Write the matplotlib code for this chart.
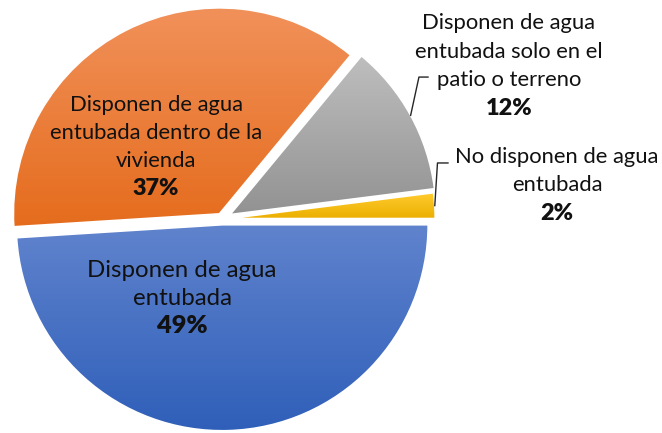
import numpy as np
import matplotlib
matplotlib.use("Agg")
import matplotlib.pyplot as plt
from matplotlib.colors import to_rgb
from matplotlib.transforms import offset_copy

plt.rcParams['font.family'] = ['Lato', 'DejaVu Sans']

# ================= 数据 =================
categories = ['No disponen de agua\nentubada',
              'Disponen de agua\nentubada solo en el\npatio o terreno',
              'Disponen de agua\nentubada dentro de la\nvivienda',
              'Disponen de agua\nentubada']
shares = [2, 12, 37, 49]
pct_labels = ['2%', '12%', '37%', '49%']

# ================= 样式 =================
top_colors = ['#FFCB2E', '#BEBEBE', '#F1915A', '#6083CD']
bottom_colors = ['#EBAF00', '#929292', '#E56C1D', '#2F5FB9']
explode = [0.035, 0.045, 0.028, 0.028]
# 标签位置 (x, y 为第一行基线, 字号, 行距像素)
label_layout = [(1.626, 0.272, 15.8, 28.5),
                (1.393, 0.922, 15.8, 28.5),
                (-0.320, 0.524, 15.8, 28),
                (-0.194, -0.282, 17.3, 28)]
# 引线拐点 (仅外部标签)
leader_elbows = {0: [(1.046, 0.272), (1.097, 0.272)],
                 1: [(0.956, 0.689), (1.0, 0.689)]}

fig = plt.figure(figsize=(6.62, 4.33), dpi=100)
ax = fig.add_axes([-0.00695, -0.0291, 0.6846, 1.04665])

wedges, _ = ax.pie(shares, startangle=0, counterclock=True, explode=explode,
                   radius=1, wedgeprops=dict(edgecolor='white', linewidth=1.2))

# 渐变填充
t = np.linspace(0, 1, 256)[:, None, None]
for w, c0, c1 in zip(wedges, top_colors, bottom_colors):
    ext = w.get_path().get_extents()
    grad = (1 - t) * np.array(to_rgb(c0)) + t * np.array(to_rgb(c1))
    im = ax.imshow(grad, extent=(ext.x0, ext.x1, ext.y0, ext.y1), origin='upper',
                   aspect='auto', interpolation='bilinear', zorder=0)
    im.set_clip_path(w)
    w.set_facecolor('none')
    w.set_zorder(1)

ax.set_xlim(-1.1, 1.1)
ax.set_ylim(-1.1, 1.1)
ax.axis('off')

# 引线
for i, elbow in leader_elbows.items():
    w = wedges[i]
    mid = np.deg2rad((w.theta1 + w.theta2) / 2)
    sx = w.center[0] + w.r * np.cos(mid)
    sy = w.center[1] + w.r * np.sin(mid)
    xs = [sx] + [p[0] for p in elbow]
    ys = [sy] + [p[1] for p in elbow]
    ax.plot(xs, ys, color='#262626', lw=1, clip_on=False, zorder=3)

# 文本
for name, pct, (x, y, fs, step) in zip(categories, pct_labels, label_layout):
    lines = name.split('\n') + [pct]
    for k, line in enumerate(lines):
        is_pct = k == len(lines) - 1
        tr = offset_copy(ax.transData, fig=fig, x=0, y=-k * step, units='dots')
        ax.text(x, y, line, transform=tr, ha='center', va='baseline',
                fontsize=fs + 1 if is_pct else fs,
                fontweight='heavy' if is_pct else 'normal',
                color='#111111', zorder=4)

fig.savefig('out.png', dpi=100)
